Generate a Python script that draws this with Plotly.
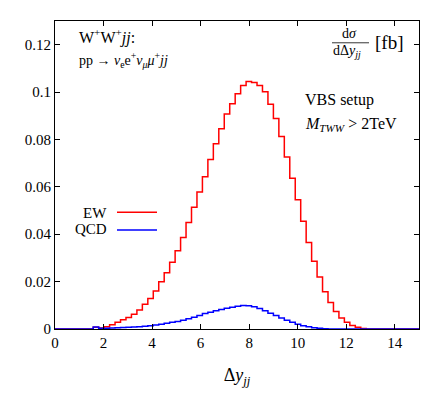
import plotly.graph_objects as go

# ---- data ----
bin_start = 1.575
bin_width = 0.225
ew_values = [0.0007, 0.0004, 0.0010, 0.0018, 0.0028, 0.0039, 0.0049, 0.0062, 0.0080, 0.0104,
             0.0129, 0.0160, 0.0199, 0.0237, 0.0282, 0.0330, 0.0386, 0.0449, 0.0514, 0.0578,
             0.0643, 0.0715, 0.0782, 0.0845, 0.0907, 0.0951, 0.0993, 0.1028, 0.1045, 0.1040,
             0.1028, 0.1001, 0.0949, 0.0889, 0.0813, 0.0726, 0.0636, 0.0546, 0.0455, 0.0365,
             0.0286, 0.0219, 0.0157, 0.0112, 0.0074, 0.0046, 0.0029, 0.0015, 0.0007, 0.0002]
qcd_values = [0.0008, 0.0003, 0.0003, 0.0004, 0.0005, 0.0006, 0.0007, 0.0008, 0.0010, 0.0012,
              0.0014, 0.0017, 0.0020, 0.0024, 0.0028, 0.0032, 0.0037, 0.0043, 0.0050, 0.0057,
              0.0065, 0.0071, 0.0077, 0.0082, 0.0088, 0.0092, 0.0096, 0.0099, 0.0098, 0.0094,
              0.0086, 0.0077, 0.0067, 0.0057, 0.0046, 0.0037, 0.0028, 0.0020, 0.0014, 0.0009,
              0.0005, 0.0003, 0.0001, 0.00005, 0.0, 0.0, 0.0, 0.0, 0.0, 0.0]
x_range = [0, 15]
y_range = [0, 0.13]
x_ticks = [0, 2, 4, 6, 8, 10, 12, 14]
y_ticks = [0, 0.02, 0.04, 0.06, 0.08, 0.1, 0.12]
y_ticklabels = ["0", "0.02", "0.04", "0.06", "0.08", "0.1", "0.12"]

FONT = "Liberation Serif"

# page offset caused by default body margin
OFF = 8
W, H = 436 - OFF, 394 - OFF
# desired plot area in page pixels: left 55, right 419, top 20, bottom 331
L, T = 55 - OFF, 20 - OFF
R = 436 - 419
B = 394 - 331
pw, ph = W - L - R, H - T - B


def px_to_paper(xp, yp):
    # xp, yp in page pixels
    return (xp - OFF - L) / pw, 1 - (yp - OFF - T) / ph


def step_xy(values):
    edges = [bin_start + bin_width * i for i in range(len(values) + 1)]
    xs = [x_range[0]] + edges + [x_range[1]]
    ys = [0] + list(values) + [0, 0]
    return xs, ys


fig = go.Figure()
for vals, color, name in [(ew_values, "#ff0000", "EW"), (qcd_values, "#0000ff", "QCD")]:
    xs, ys = step_xy(vals)
    fig.add_trace(go.Scatter(x=xs, y=ys, mode="lines", line=dict(color=color, width=1.5, shape="hv"),
                             name=name, showlegend=False))

axis_common = dict(showline=True, linecolor="black", linewidth=1, mirror="ticks", ticks="inside",
                   ticklen=5, tickcolor="black", showgrid=False, zeroline=False,
                   tickfont=dict(family=FONT, size=15, color="black"))
fig.update_xaxes(range=x_range, tickvals=x_ticks, **axis_common,
                 title=dict(text="Δ<i>y<sub>jj</sub></i>", font=dict(family=FONT, size=18, color="black"),
                            standoff=18))
fig.update_yaxes(range=y_range, tickvals=y_ticks, ticktext=y_ticklabels, **axis_common)

ann = []
ann.append(dict(x=77, y=36, text="W<sup>+</sup>W<sup>+</sup><i>jj</i>:", font_size=16))
ann.append(dict(x=77, y=59, text="pp → <i>ν</i><sub>e</sub>e<sup>+</sup><i>ν<sub>μ</sub>μ</i><sup>+</sup><i>jj</i>", font_size=14))
ann.append(dict(x=340, y=33, text="d<i>σ</i>", font_size=14))
ann.append(dict(x=331, y=51, text="dΔ<i>y<sub>jj</sub></i>", font_size=14))
ann.append(dict(x=373, y=42, text="[fb]", font_size=19))
ann.append(dict(x=303, y=100, text="VBS setup", font_size=16))
ann.append(dict(x=303, y=125, text="<i>M<sub>TWW</sub></i> &gt; 2TeV", font_size=16))
ann.append(dict(x=109, y=214, text="EW", font_size=15, xanchor="right"))
ann.append(dict(x=109, y=230, text="QCD", font_size=15, xanchor="right"))

annotations = []
for a in ann:
    px, py = px_to_paper(a["x"], a["y"])
    annotations.append(dict(x=px, y=py, xref="paper", yref="paper",
                            text=a["text"], showarrow=False, xanchor=a.get("xanchor", "left"),
                            yanchor="middle", font=dict(family=FONT, size=a["font_size"], color="black")))

shapes = []
for (yp, color) in [(213, "#ff0000"), (231, "#0000ff")]:
    x0, y0 = px_to_paper(117, yp)
    x1, _ = px_to_paper(157, yp)
    shapes.append(dict(type="line", xref="paper", yref="paper", x0=x0, x1=x1, y0=y0, y1=y0,
                       line=dict(color=color, width=1.5)))
x0, y0 = px_to_paper(332, 42)
x1, _ = px_to_paper(369, 42)
shapes.append(dict(type="line", xref="paper", yref="paper", x0=x0, x1=x1, y0=y0, y1=y0,
                   line=dict(color="black", width=0.8)))

fig.update_layout(width=W, height=H, margin=dict(l=L, r=R, t=T, b=B, pad=0),
                  paper_bgcolor="white", plot_bgcolor="white",
                  annotations=annotations, shapes=shapes, showlegend=False,
                  font=dict(family=FONT, color="black"))

fig.write_html("out.html")
